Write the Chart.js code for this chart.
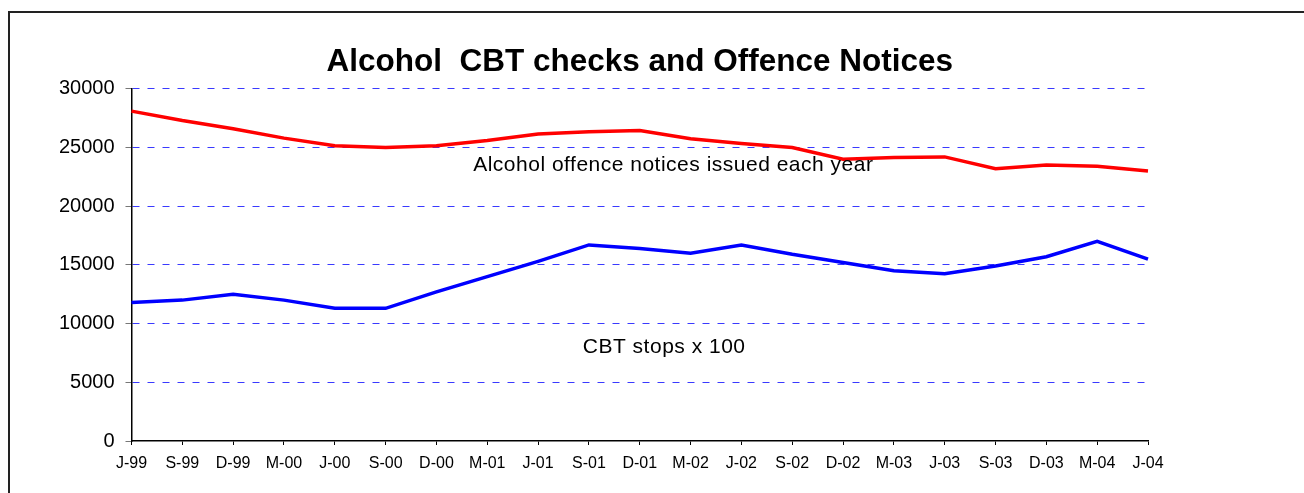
<!DOCTYPE html>
<html>
<head>
<meta charset="utf-8">
<script src="https://cdn.jsdelivr.net/npm/chart.js@4/dist/chart.umd.min.js"></script>
<style>
  html, body { margin: 0; padding: 0; background: #fff; }
  #wrap { position: relative; width: 1304px; height: 493px; overflow: hidden; }
  #frame { position: absolute; left: 8px; top: 11px; width: 1400px; height: 600px;
           border-left: 2px solid #222; border-top: 2px solid #222; pointer-events: none; }
  canvas { position: absolute; left: 0; top: 0; }
</style>
</head>
<body>
<div id="wrap">
  <canvas id="grafic" width="1304" height="493"></canvas>
  <div id="frame"></div>
</div>
<script>
const luni = ['J-99', 'S-99', 'D-99', 'M-00', 'J-00', 'S-00', 'D-00', 'M-01', 'J-01', 'S-01', 'D-01',
              'M-02', 'J-02', 'S-02', 'D-02', 'M-03', 'J-03', 'S-03', 'D-03', 'M-04', 'J-04'];
const notiteAlcool = [28100, 27300, 26600, 25800, 25150, 25000, 25150, 25600, 26150, 26350, 26450,
                      25750, 25350, 25000, 24000, 24150, 24200, 23200, 23500, 23400, 23000];
const opririCBT = [11800, 12000, 12500, 12000, 11300, 11300, 12700, 14000, 15300, 16700, 16400,
                   16000, 16700, 15900, 15200, 14500, 14250, 14900, 15700, 17000, 15500];
const eticheteSerii = ['Alcohol offence notices issued each year', 'CBT stops x 100'];

const fontBaza = '"Liberation Sans", Arial, sans-serif';

// text de pe grafic, pozitionat prin scale
const pluginEtichete = {
    id: 'etichete',
    afterDatasetsDraw(chart, args, opts) {
        const ctx = chart.ctx;
        const sx = chart.scales.x;
        const sy = chart.scales.y;
        ctx.save();
        ctx.font = opts.font;
        ctx.fillStyle = '#000';
        ctx.textAlign = 'center';
        ctx.textBaseline = 'alphabetic';
        ctx.letterSpacing = opts.spacing;
        opts.items.forEach(it => {
            ctx.fillText(it.text, sx.getPixelForValue(it.x), sy.getPixelForValue(it.y));
        });
        ctx.restore();
    }
};

const ctxGrafic = document.getElementById('grafic').getContext('2d');
new Chart(ctxGrafic, {
    type: 'line',
    data: {
        labels: luni,
        datasets: [
            { label: eticheteSerii[0], data: notiteAlcool, borderColor: '#ff0000', borderWidth: 3.5,
              pointRadius: 0, tension: 0, fill: false },
            { label: eticheteSerii[1], data: opririCBT, borderColor: '#0000ff', borderWidth: 3.5,
              pointRadius: 0, tension: 0, fill: false }
        ]
    },
    options: {
        responsive: false,
        animation: false,
        layout: { padding: { left: 0, right: 156, top: 0, bottom: 0 } },
        plugins: {
            legend: { display: false },
            tooltip: { enabled: false },
            title: {
                display: true,
                text: 'Alcohol  CBT checks and Offence Notices',
                fullSize: false,
                color: '#000',
                font: { family: fontBaza, size: 31.5, weight: 'bold' },
                padding: { top: 43, bottom: 8 }
            },
            etichete: {
                font: '21px ' + fontBaza,
                spacing: '0.5px',
                items: [
                    { text: eticheteSerii[0], x: 10.66, y: 23000 },
                    { text: eticheteSerii[1], x: 10.48, y: 7500 }
                ]
            }
        },
        scales: {
            x: {
                offset: false,
                afterFit(scale) { scale.height = 52; },
                grid: { drawOnChartArea: false, drawTicks: true, tickLength: 4, tickColor: '#000' },
                border: { display: true, color: '#000', width: 1.5 },
                ticks: { color: '#000', font: { family: fontBaza, size: 16 }, padding: 9,
                         maxRotation: 0, autoSkip: false }
            },
            y: {
                min: 0,
                max: 30000,
                afterFit(scale) { scale.width = 131.5; },
                grid: {
                    color: c => c.tick.value === 0 ? 'rgba(0,0,0,0)' : '#3a3aff',
                    lineWidth: 1,
                    tickLength: 6,
                    tickColor: '#777'
                },
                border: { display: true, color: '#000', width: 1.5, dash: [7, 8] },
                ticks: { stepSize: 5000, color: '#000', font: { family: fontBaza, size: 20 }, padding: 11,
                         callback: v => String(v) }
            }
        }
    },
    plugins: [pluginEtichete]
});
</script>
</body>
</html>
